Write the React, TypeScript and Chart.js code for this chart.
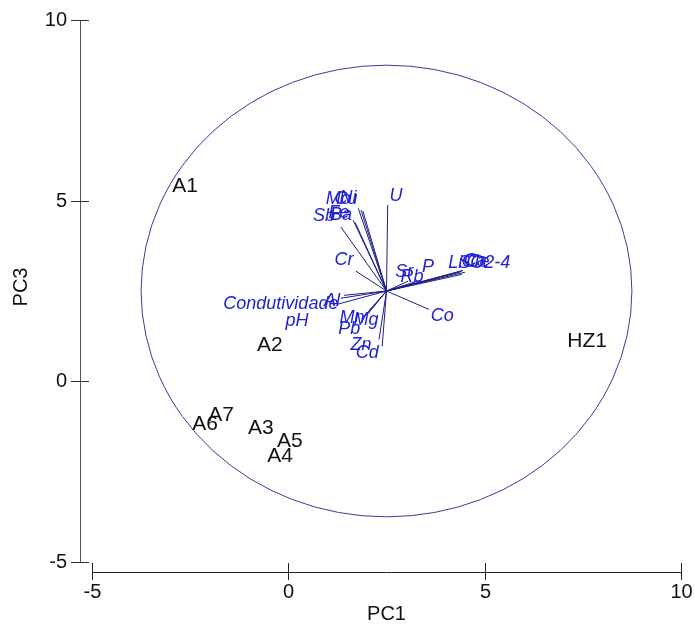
import React, { useEffect, useRef } from "react";
import { Chart, registerables } from "chart.js";

Chart.register(...registerables);

// Axis ticks and titles
const xTicks = [-5, 0, 5, 10];
const yTicks = [-5, 0, 5, 10];
const xTitle = "PC1";
const yTitle = "PC3";

// Sample scores
const sampleNames = ["A1", "A2", "HZ1", "A7", "A6", "A3", "A5", "A4"];
const sampleX = [-2.63, -0.47, 7.61, -1.71, -2.12, -0.7, 0.04, -0.21];
const sampleY = [5.4, 1.0, 1.11, -0.94, -1.19, -1.3, -1.66, -2.08];

// Variable vectors (tips) and label anchors
const varNames = [
  "U", "Mo", "Cu", "Ni", "Sb", "Ba", "Fe", "Cr", "Sr", "Rb", "P",
  "Li", "Cl", "Ca", "Ce", "SO2-4", "Al", "Condutividade", "pH",
  "Mn", "Mg", "Pb", "Zn", "Cd", "Co",
];
const varX = [
  2.53, 1.78, 1.85, 1.9, 1.34, 1.7, 1.65, 1.72, 3.05, 3.23, 3.36,
  4.37, 4.42, 4.45, 4.5, 4.42, 1.42, 1.34, 1.24,
  1.93, 2.0, 1.9, 2.31, 2.39, 3.58,
];
const varY = [
  4.88, 4.79, 4.74, 4.71, 4.27, 4.4, 4.46, 3.05, 2.77, 2.72, 2.8,
  3.02, 3.05, 3.07, 3.02, 2.96, 2.38, 2.3, 2.13,
  1.8, 1.83, 1.75, 1.16, 0.97, 1.99,
];
const varLabelX = [
  2.74, 1.27, 1.47, 1.52, 0.91, 1.34, 1.29, 1.42, 2.95, 3.15, 3.56,
  4.25, 4.63, 4.76, 4.83, 4.99, 1.11, -0.19, 0.22,
  1.62, 1.98, 1.55, 1.85, 2.01, 3.92,
];
const varLabelY = [
  5.12, 5.04, 5.04, 5.07, 4.57, 4.6, 4.65, 3.35, 3.02, 2.88, 3.16,
  3.27, 3.3, 3.32, 3.3, 3.27, 2.22, 2.13, 1.66,
  1.75, 1.69, 1.44, 1.0, 0.78, 1.8,
];
const originX = 2.5;
const originY = 2.5;
const circleRadius = 6.25;

const FONT = '"Liberation Sans", Arial, sans-serif';

const decorPlugin = {
  id: "biplotDecor",
  beforeDatasetsDraw(chart: any) {
    const ctx = chart.ctx;
    const xs = chart.scales.x;
    const ys = chart.scales.y;
    const area = chart.chartArea;
    ctx.save();
    // circle
    const cx = xs.getPixelForValue(originX);
    const cy = ys.getPixelForValue(originY);
    const rx = Math.abs(xs.getPixelForValue(originX + circleRadius) - cx);
    const ry = Math.abs(ys.getPixelForValue(originY + circleRadius) - cy);
    ctx.beginPath();
    ctx.ellipse(cx, cy, rx, ry, 0, 0, Math.PI * 2);
    ctx.strokeStyle = "#3a3a9a";
    ctx.lineWidth = 1;
    ctx.stroke();

    // Y axis (detached)
    const yAxisX = area.left - 12;
    const yTop = ys.getPixelForValue(yTicks[yTicks.length - 1]);
    const yBot = ys.getPixelForValue(yTicks[0]);
    ctx.beginPath();
    ctx.moveTo(yAxisX + 0.5, yTop);
    ctx.lineTo(yAxisX + 0.5, yBot);
    ctx.strokeStyle = "#555";
    ctx.stroke();
    ctx.strokeStyle = "#333";
    ctx.fillStyle = "#111";
    ctx.font = `20px ${FONT}`;
    ctx.textAlign = "right";
    ctx.textBaseline = "middle";
    yTicks.forEach((t) => {
      const py = Math.round(ys.getPixelForValue(t)) + 0.5;
      ctx.beginPath();
      ctx.moveTo(yAxisX - 9, py);
      ctx.lineTo(yAxisX + 9, py);
      ctx.stroke();
      ctx.fillText(String(t), yAxisX - 13, py);
    });

    // X axis (detached)
    const xAxisY = area.bottom + 10;
    const xL = xs.getPixelForValue(xTicks[0]);
    const xR = xs.getPixelForValue(xTicks[xTicks.length - 1]);
    ctx.beginPath();
    ctx.moveTo(xL, xAxisY + 0.5);
    ctx.lineTo(xR, xAxisY + 0.5);
    ctx.strokeStyle = "#222";
    ctx.stroke();
    ctx.textAlign = "center";
    ctx.textBaseline = "middle";
    xTicks.forEach((t) => {
      const px = Math.round(xs.getPixelForValue(t)) + 0.5;
      ctx.beginPath();
      ctx.moveTo(px, xAxisY - 9);
      ctx.lineTo(px, xAxisY + 8);
      ctx.stroke();
      ctx.fillText(String(t), px, xAxisY + 20);
    });

    // titles
    ctx.fillText(xTitle, (xL + xR) / 2, xAxisY + 42);
    ctx.save();
    ctx.translate(21, (yTop + yBot) / 2 - 4);
    ctx.rotate(-Math.PI / 2);
    ctx.fillText(yTitle, 0, 0);
    ctx.restore();
    ctx.restore();
  },
  afterDatasetsDraw(chart: any) {
    const ctx = chart.ctx;
    const xs = chart.scales.x;
    const ys = chart.scales.y;
    ctx.save();
    ctx.textAlign = "center";
    ctx.textBaseline = "middle";
    ctx.font = `italic 18px ${FONT}`;
    ctx.fillStyle = "#2020d8";
    varNames.forEach((n, i) => {
      ctx.fillText(n, xs.getPixelForValue(varLabelX[i]), ys.getPixelForValue(varLabelY[i]));
    });
    ctx.font = `21px ${FONT}`;
    ctx.fillStyle = "#111";
    sampleNames.forEach((n, i) => {
      ctx.fillText(n, xs.getPixelForValue(sampleX[i]), ys.getPixelForValue(sampleY[i]));
    });
    ctx.restore();
  },
};

export default function App() {
  const ref = useRef<HTMLCanvasElement | null>(null);
  useEffect(() => {
    if (!ref.current) return;
    const vectorSets = varNames.map((n, i) => ({
      label: n,
      data: [
        { x: originX, y: originY },
        { x: varX[i], y: varY[i] },
      ],
      showLine: true,
      borderColor: "#1e1e88",
      borderWidth: 1,
      pointRadius: 0,
    }));
    const sampleSet = {
      label: "samples",
      data: sampleNames.map((_, i) => ({ x: sampleX[i], y: sampleY[i] })),
      pointRadius: 0,
      showLine: false,
    };
    const chart = new Chart(ref.current, {
      type: "scatter",
      data: { datasets: [...vectorSets, sampleSet] as any },
      options: {
        responsive: false,
        animation: false,
        events: [],
        layout: { padding: { left: 92, right: 13, top: 20, bottom: 70 } },
        plugins: { legend: { display: false }, tooltip: { enabled: false } },
        scales: {
          x: { type: "linear", min: -5, max: 10, display: false },
          y: { type: "linear", min: -5, max: 10, display: false },
        },
      },
      plugins: [decorPlugin],
    });
    return () => chart.destroy();
  }, []);
  return (
    <div style={{ position: "fixed", left: 0, top: 0, width: 694, height: 632, background: "#fff" }}>
      <canvas ref={ref} width={694} height={632} style={{ display: "block" }} />
    </div>
  );
}
